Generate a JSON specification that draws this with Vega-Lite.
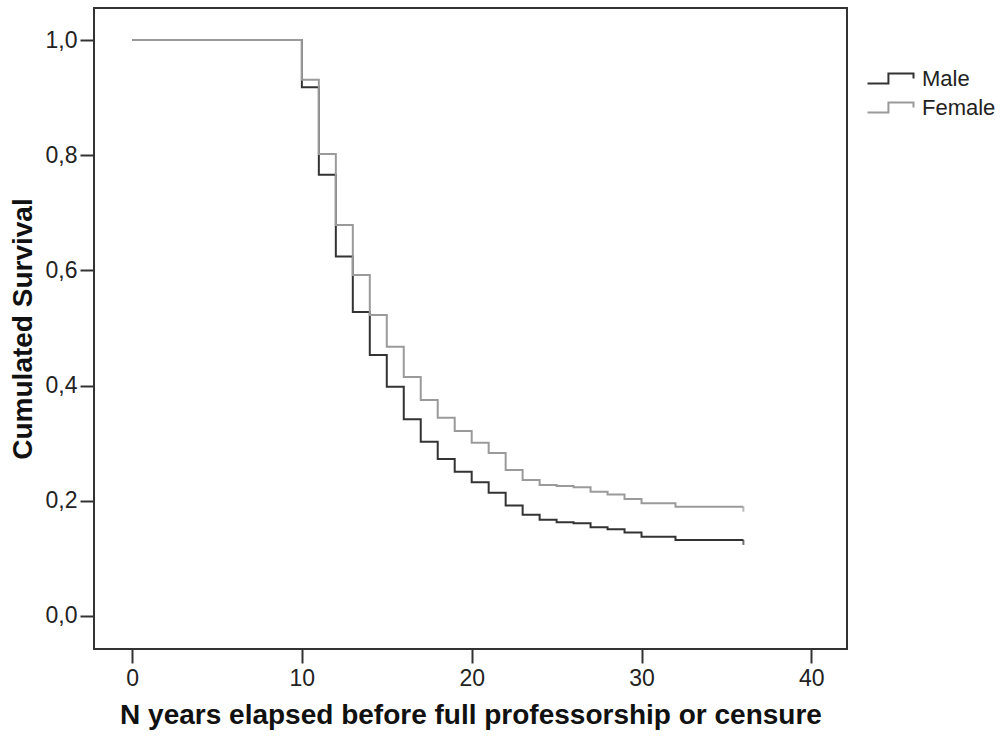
{
  "$schema": "https://vega.github.io/schema/vega-lite/v6.json",
  "width": 753,
  "height": 641,
  "autosize": {"type": "none"},
  "padding": {"left": 94, "top": 8, "right": 156, "bottom": 94},
  "background": "white",
  "config": {
    "view": {"stroke": "#333333", "strokeWidth": 2},
    "font": "Liberation Sans",
    "axis": {
      "domain": false,
      "grid": false,
      "tickColor": "#333333",
      "tickWidth": 2,
      "tickSize": 14,
      "labelColor": "#222222",
      "labelFontSize": 23,
      "labelFont": "Liberation Sans",
      "titleFont": "Liberation Sans",
      "titleFontWeight": "bold",
      "titleFontSize": 28,
      "titleColor": "#111111"
    },
    "legend": {"padding": 0}
  },
  "datasets": {
    "curves": [
      {"group": "Male", "year": 0, "survival": 1.0},
      {"group": "Male", "year": 10, "survival": 0.918},
      {"group": "Male", "year": 11, "survival": 0.766},
      {"group": "Male", "year": 12, "survival": 0.624},
      {"group": "Male", "year": 13, "survival": 0.528},
      {"group": "Male", "year": 14, "survival": 0.453},
      {"group": "Male", "year": 15, "survival": 0.398},
      {"group": "Male", "year": 16, "survival": 0.3415},
      {"group": "Male", "year": 17, "survival": 0.3026},
      {"group": "Male", "year": 18, "survival": 0.2726},
      {"group": "Male", "year": 19, "survival": 0.2505},
      {"group": "Male", "year": 20, "survival": 0.232},
      {"group": "Male", "year": 21, "survival": 0.214},
      {"group": "Male", "year": 22, "survival": 0.192},
      {"group": "Male", "year": 23, "survival": 0.176},
      {"group": "Male", "year": 24, "survival": 0.167},
      {"group": "Male", "year": 25, "survival": 0.1626},
      {"group": "Male", "year": 26, "survival": 0.161},
      {"group": "Male", "year": 27, "survival": 0.154},
      {"group": "Male", "year": 28, "survival": 0.1505},
      {"group": "Male", "year": 29, "survival": 0.145},
      {"group": "Male", "year": 30, "survival": 0.1377},
      {"group": "Male", "year": 32, "survival": 0.132},
      {"group": "Male", "year": 36, "survival": 0.132},
      {"group": "Female", "year": 0, "survival": 1.0},
      {"group": "Female", "year": 10, "survival": 0.931},
      {"group": "Female", "year": 11, "survival": 0.802},
      {"group": "Female", "year": 12, "survival": 0.679},
      {"group": "Female", "year": 13, "survival": 0.592},
      {"group": "Female", "year": 14, "survival": 0.5226},
      {"group": "Female", "year": 15, "survival": 0.4675},
      {"group": "Female", "year": 16, "survival": 0.415},
      {"group": "Female", "year": 17, "survival": 0.375},
      {"group": "Female", "year": 18, "survival": 0.344},
      {"group": "Female", "year": 19, "survival": 0.321},
      {"group": "Female", "year": 20, "survival": 0.301},
      {"group": "Female", "year": 21, "survival": 0.283},
      {"group": "Female", "year": 22, "survival": 0.2535},
      {"group": "Female", "year": 23, "survival": 0.236},
      {"group": "Female", "year": 24, "survival": 0.2274},
      {"group": "Female", "year": 25, "survival": 0.2257},
      {"group": "Female", "year": 26, "survival": 0.2234},
      {"group": "Female", "year": 27, "survival": 0.2158},
      {"group": "Female", "year": 28, "survival": 0.211},
      {"group": "Female", "year": 29, "survival": 0.203},
      {"group": "Female", "year": 30, "survival": 0.1956},
      {"group": "Female", "year": 32, "survival": 0.1898},
      {"group": "Female", "year": 36, "survival": 0.1898}
    ]
  },
  "layer": [
    {
      "data": {"name": "curves"},
      "mark": {"type": "line", "interpolate": "step-after", "strokeWidth": 2},
      "encoding": {
        "x": {
          "field": "year",
          "type": "quantitative",
          "scale": {"domain": [-2.24, 42.1], "nice": false, "zero": false},
          "axis": {
            "values": [0, 10, 20, 30, 40],
            "title": "N years elapsed before full professorship or censure",
            "labelPadding": 4,
            "titlePadding": 11
          }
        },
        "y": {
          "field": "survival",
          "type": "quantitative",
          "scale": {"domain": [-0.0573, 1.0556], "nice": false, "zero": false},
          "axis": {
            "values": [0, 0.2, 0.4, 0.6, 0.8, 1],
            "labelExpr": "replace(format(datum.value, '.1f'), '.', ',')",
            "title": "Cumulated Survival",
            "labelPadding": 3,
            "titlePadding": 8
          }
        },
        "color": {
          "field": "group",
          "type": "nominal",
          "scale": {"domain": ["Male", "Female"], "range": ["#333333", "#9a9a9a"]},
          "legend": {
            "title": null,
            "orient": "none",
            "legendX": 784,
            "legendY": 58,
            "symbolType": "M-2,0.44H-0.18V-0.44H2V0",
            "symbolSize": 529,
            "symbolStrokeWidth": 2,
            "labelFontSize": 22,
            "labelColor": "#222222",
            "labelOffset": 19,
            "rowPadding": 5,
            "encode": {
              "symbols": {"update": {"fill": {"value": "transparent"}, "fillOpacity": {"value": 0}}}
            }
          }
        }
      }
    },
    {
      "data": {"name": "curves"},
      "transform": [{"filter": "datum.year == 36"}],
      "mark": {"type": "tick", "orient": "vertical", "size": 5, "thickness": 2, "yOffset": 2.5},
      "encoding": {
        "x": {"field": "year", "type": "quantitative"},
        "y": {"field": "survival", "type": "quantitative"},
        "fill": {
          "field": "group",
          "type": "nominal",
          "scale": {"domain": ["Male", "Female"], "range": ["#333333", "#9a9a9a"]},
          "legend": null
        }
      }
    }
  ]
}
